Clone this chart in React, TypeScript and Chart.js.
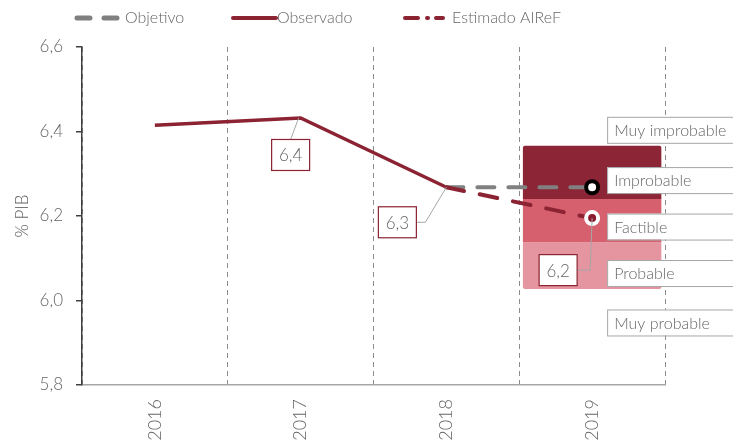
import React, { useEffect, useRef } from 'react';
import { Chart, registerables } from 'chart.js';
Chart.register(...registerables);

const years = ['2016', '2017', '2018', '2019'];
const objetivo = [null, null, 6.268, 6.268];
const observado = [6.415, 6.432, 6.268, null];
const estimado = [null, null, 6.268, 6.195];
const yTicks = [5.8, 6.0, 6.2, 6.4, 6.6];

// probability bands for 2019 [low, high]
const bandImprobable = [6.24, 6.366];
const bandFactible = [6.138, 6.24];
const bandProbable = [6.027, 6.138];

const bandLabels = ['Muy improbable', 'Improbable', 'Factible', 'Probable', 'Muy probable'];
const bandLabelValues = [6.404, 6.285, 6.175, 6.065, 5.948];

const valueLabels = ['6,4', '6,3', '6,2'];

const FONT = 'Lato, "Open Sans", sans-serif';
const TEXT = '#666666';
const RED = '#8B2332';

const overlayPlugin = {
  id: 'overlay',
  afterDatasetsDraw(chart: any) {
    const ctx = chart.ctx;
    const xs = chart.scales.x;
    const ys = chart.scales.y;
    ctx.save();
    // value annotations with leader lines
    const anns = [
      { x: xs.getPixelForValue(1), y: ys.getPixelForValue(observado[1]), dx: -10, dy: 37, text: valueLabels[0], elbow: false },
      { x: xs.getPixelForValue(2), y: ys.getPixelForValue(observado[2]), dx: -49, dy: 35, text: valueLabels[1], elbow: true },
      { x: xs.getPixelForValue(3), y: ys.getPixelForValue(estimado[3]), dx: -34, dy: 52, text: valueLabels[2], elbow: true, vertical: true },
    ];
    const bw = 38, bh = 31;
    anns.forEach((a: any) => {
      const cx = a.x + a.dx, cy = a.y + a.dy;
      ctx.strokeStyle = '#a6a6a6';
      ctx.lineWidth = 1;
      ctx.beginPath();
      if (!a.elbow) {
        ctx.moveTo(a.x - 2, a.y);
        ctx.lineTo(cx, cy - bh / 2);
      } else if (a.vertical) {
        ctx.moveTo(a.x, a.y);
        ctx.lineTo(a.x - 2, cy);
        ctx.lineTo(cx + bw / 2, cy);
      } else {
        ctx.moveTo(a.x, a.y);
        ctx.lineTo(cx + bw / 2 + 9, cy);
        ctx.lineTo(cx + bw / 2, cy);
      }
      ctx.stroke();
      ctx.fillStyle = '#fff';
      ctx.fillRect(cx - bw / 2, cy - bh / 2, bw, bh);
      ctx.strokeStyle = RED;
      ctx.lineWidth = 1.2;
      ctx.strokeRect(cx - bw / 2, cy - bh / 2, bw, bh);
      ctx.fillStyle = TEXT;
      ctx.font = `300 17px ${FONT}`;
      ctx.textAlign = 'center';
      ctx.textBaseline = 'middle';
      ctx.fillText(a.text, cx, cy + 1);
    });
    // band labels on the right
    const lx = xs.getPixelForValue(3) + 15;
    bandLabels.forEach((t, i) => {
      const cy = ys.getPixelForValue(bandLabelValues[i]);
      ctx.fillStyle = '#fff';
      ctx.fillRect(lx, cy - 13, 140, 26);
      ctx.strokeStyle = '#a6a6a6';
      ctx.lineWidth = 1;
      ctx.strokeRect(lx + 0.5, cy - 13 + 0.5, 140, 26);
      ctx.fillStyle = TEXT;
      ctx.font = `300 16px ${FONT}`;
      ctx.textAlign = 'left';
      ctx.textBaseline = 'middle';
      ctx.fillText(t, lx + 7, cy + 1);
    });
    ctx.restore();
  },
  afterDraw(chart: any) {
    const ctx = chart.ctx;
    ctx.save();
    const y = 18;
    ctx.lineCap = 'round';
    // Objetivo
    ctx.strokeStyle = '#808080';
    ctx.lineWidth = 5;
    ctx.setLineDash([13, 14]);
    ctx.beginPath(); ctx.moveTo(77, y); ctx.lineTo(117, y); ctx.stroke();
    // Observado
    ctx.strokeStyle = RED;
    ctx.setLineDash([]);
    ctx.lineWidth = 4;
    ctx.beginPath(); ctx.moveTo(233, y); ctx.lineTo(276, y); ctx.stroke();
    // Estimado
    ctx.lineWidth = 4;
    ctx.setLineDash([13, 9, 1, 8]);
    ctx.beginPath(); ctx.moveTo(405, y); ctx.lineTo(443, y); ctx.stroke();
    ctx.setLineDash([]);
    ctx.fillStyle = TEXT;
    ctx.font = `300 16px ${FONT}`;
    ctx.textAlign = 'left';
    ctx.textBaseline = 'middle';
    ctx.fillText('Objetivo', 125, y);
    ctx.fillText('Observado', 277, y);
    ctx.fillText('Estimado AIReF', 452, y);
    ctx.restore();
  },
};

export default function App() {
  const ref = useRef<HTMLCanvasElement>(null);
  useEffect(() => {
    if (!ref.current) return;
    const chart = new Chart(ref.current, {
      type: 'bar',
      data: {
        labels: years,
        datasets: [
          {
            type: 'line', label: 'Objetivo', data: objetivo as any, borderColor: '#808080', borderWidth: 4,
            borderDash: [17, 14], borderCapStyle: 'round',
            pointRadius: [0, 0, 0, 6], pointBackgroundColor: '#fff', pointBorderColor: '#000', pointBorderWidth: 4,
            order: 1,
          },
          {
            type: 'line', label: 'Observado', data: observado as any, borderColor: RED, borderWidth: 3.5,
            pointRadius: 0, order: 2,
          },
          {
            type: 'line', label: 'Estimado AIReF', data: estimado as any, borderColor: RED, borderWidth: 4,
            borderDash: [18, 16], borderCapStyle: 'round',
            pointRadius: [0, 0, 0, 6], pointBackgroundColor: '#8B1A2E', pointBorderColor: '#fff', pointBorderWidth: 4,
            order: 0,
          },
          {
            type: 'bar', label: 'Improbable', data: [null, null, null, bandImprobable] as any,
            backgroundColor: '#8C2535', barPercentage: 0.95, categoryPercentage: 1, grouped: false, order: 10,
            borderRadius: { topLeft: 2, topRight: 2, bottomLeft: 0, bottomRight: 0 }, borderSkipped: false,
          },
          {
            type: 'bar', label: 'Factible', data: [null, null, null, bandFactible] as any,
            backgroundColor: '#D6606E', barPercentage: 0.95, categoryPercentage: 1, grouped: false, order: 10,
          },
          {
            type: 'bar', label: 'Probable', data: [null, null, null, bandProbable] as any,
            backgroundColor: '#E5959F', barPercentage: 0.95, categoryPercentage: 1, grouped: false, order: 10,
            borderRadius: { topLeft: 0, topRight: 0, bottomLeft: 2, bottomRight: 2 }, borderSkipped: false,
          },
        ],
      },
      options: {
        responsive: false,
        animation: false,
        layout: { padding: { top: 47, right: 68, left: 0, bottom: 0 } },
        plugins: { legend: { display: false }, tooltip: { enabled: false } },
        scales: {
          x: {
            type: 'category',
            offset: true,
            grid: { offset: true, drawOnChartArea: true, drawTicks: false, color: '#8c8c8c', lineWidth: 1 },
            border: { display: true, color: '#a6a6a6', width: 1.5, dash: [5, 4] },
            ticks: { minRotation: 90, maxRotation: 90, padding: 14, color: TEXT, font: { family: FONT, size: 18, weight: '300' } },
            afterFit: (s: any) => { s.height = 59; },
          },
          y: {
            min: 5.8, max: 6.6,
            afterBuildTicks: (s: any) => { s.ticks = yTicks.map(v => ({ value: v })); },
            ticks: {
              padding: 13, color: TEXT, font: { family: FONT, size: 17, weight: '300' },
              callback: (v: any) => Number(v).toFixed(1).replace('.', ','),
            },
            grid: { drawOnChartArea: false, drawTicks: true, tickLength: 6, color: '#404040', lineWidth: 1.5 },
            border: { display: true, color: '#404040', width: 1.5 },
            title: { display: true, text: '% PIB', color: TEXT, font: { family: FONT, size: 17, weight: '300' }, padding: { top: 12, bottom: 0 } },
            afterFit: (s: any) => { s.width = 82; },
          },
        },
      },
      plugins: [overlayPlugin],
    });
    return () => chart.destroy();
  }, []);
  return (
    <div style={{ position: 'absolute', left: 0, top: 0, width: 733, height: 444, background: '#fff' }}>
      <canvas ref={ref} width={733} height={444} />
    </div>
  );
}
